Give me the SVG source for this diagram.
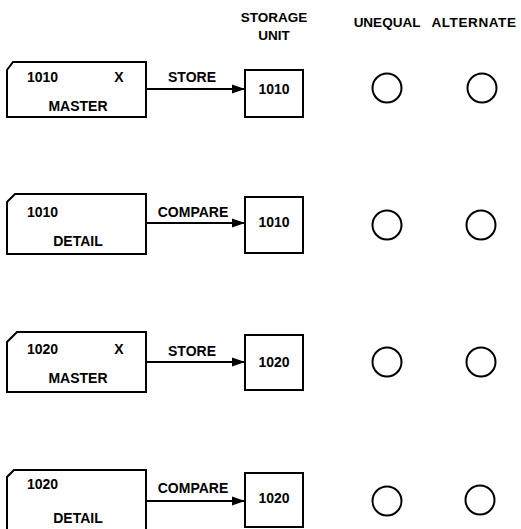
<svg xmlns="http://www.w3.org/2000/svg" width="521" height="529" viewBox="0 0 521 529">
<defs>
<style>
text{font-family:"Liberation Sans",Arial,sans-serif;font-weight:bold;font-size:14px;fill:#000}
.h{font-size:13.5px}
.c{text-anchor:middle}
.card,.box,.lamp{fill:none;stroke:#000;stroke-width:2}
.conn{stroke:#000;stroke-width:2;fill:none}
</style>
<marker id="ah" markerWidth="13" markerHeight="10" refX="13" refY="5" orient="auto" markerUnits="userSpaceOnUse">
<path d="M0,0.5 L13,5 L0,9.5 Z" fill="#000"/>
</marker>
</defs>
<rect width="521" height="529" fill="#fff"/>
<g id="headers">
<text class="c h" x="274" y="22">STORAGE</text>
<text class="c h" x="274" y="40">UNIT</text>
<text class="c h" x="387" y="27">UNEQUAL</text>
<text class="c h" x="474" y="27" style="letter-spacing:0.6px">ALTERNATE</text>
</g>
<g id="connectors">
<line class="conn" x1="146" y1="89" x2="245" y2="89" marker-end="url(#ah)"/>
<line class="conn" x1="146" y1="223" x2="245" y2="223" marker-end="url(#ah)"/>
<line class="conn" x1="146" y1="362" x2="245" y2="362" marker-end="url(#ah)"/>
<line class="conn" x1="146" y1="501" x2="245" y2="501" marker-end="url(#ah)"/>
<text class="c" x="192" y="82">STORE</text>
<text class="c" x="193" y="217">COMPARE</text>
<text class="c" x="192" y="356">STORE</text>
<text class="c" x="193" y="493">COMPARE</text>
</g>
<g id="card1">
<path class="card" d="M7,70 L13,62 L146,62 L146,117 L7,117 Z"/>
<text x="27" y="82">1010</text>
<text class="c" x="119" y="82">X</text>
<text class="c" x="78" y="111">MASTER</text>
</g>
<g id="card2">
<path class="card" d="M7,202 L15,194 L146,194 L146,254 L7,254 Z"/>
<text x="27" y="217">1010</text>
<text class="c" x="78" y="246">DETAIL</text>
</g>
<g id="card3">
<path class="card" d="M7,342 L17,332 L146,332 L146,392 L7,392 Z"/>
<text x="27" y="354">1020</text>
<text class="c" x="119" y="354">X</text>
<text class="c" x="78" y="383">MASTER</text>
</g>
<g id="card4">
<path class="card" d="M7,540 L7,477 L14,470 L146,470 L146,540"/>
<text x="27" y="489">1020</text>
<text class="c" x="78" y="523">DETAIL</text>
</g>
<g id="store1"><rect class="box" x="245" y="70" width="58" height="47"/><text class="c" x="274" y="94">1010</text></g>
<g id="store2"><rect class="box" x="245" y="197" width="58" height="56"/><text class="c" x="274" y="227">1010</text></g>
<g id="store3"><rect class="box" x="245" y="335" width="58" height="55"/><text class="c" x="274" y="367">1020</text></g>
<g id="store4"><rect class="box" x="245" y="473" width="58" height="54"/><text class="c" x="274" y="503">1020</text></g>
<g id="unequal1"><circle class="lamp" cx="387" cy="88" r="14.5"/></g>
<g id="alternate1"><circle class="lamp" cx="482" cy="88" r="14.5"/></g>
<g id="unequal2"><circle class="lamp" cx="387" cy="225" r="14.5"/></g>
<g id="alternate2"><circle class="lamp" cx="481" cy="225" r="14.5"/></g>
<g id="unequal3"><circle class="lamp" cx="387" cy="362" r="14.5"/></g>
<g id="alternate3"><circle class="lamp" cx="481" cy="362" r="14.5"/></g>
<g id="unequal4"><circle class="lamp" cx="387" cy="501" r="14.5"/></g>
<g id="alternate4"><circle class="lamp" cx="480" cy="500" r="14.5"/></g>
</svg>
